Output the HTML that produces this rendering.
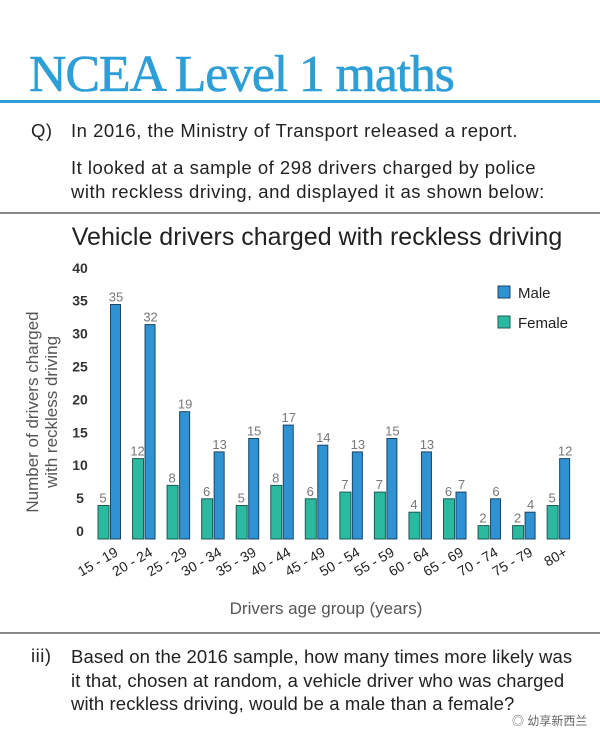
<!DOCTYPE html>
<html><head><meta charset="utf-8"><style>
body{margin:0;background:#fff;}
#page{position:relative;width:600px;height:741px;overflow:hidden;background:#fff;font-family:"Liberation Sans",sans-serif;color:#222;}
.t{position:absolute;white-space:nowrap;}
.q{font-size:18.5px;letter-spacing:0.5px;}
</style></head><body>
<div id="page">
<div class="t" style="left:29px;top:45px;font-family:'Liberation Serif',serif;font-size:52px;color:#2e9fd6;letter-spacing:-1.2px;-webkit-text-stroke:0.6px #2e9fd6;">NCEA Level 1 maths</div>
<div style="position:absolute;left:0;top:100px;width:600px;height:3px;background:#2e9fd6;"></div>
<div class="t q" style="left:31px;top:120px;">Q)</div>
<div class="t q" style="left:71px;top:120px;">In 2016, the Ministry of Transport released a report.</div>
<div class="t q" style="left:71px;top:156px;line-height:24px;">It looked at a sample of 298 drivers charged by police<br>with reckless driving, and displayed it as shown below:</div>
<div style="position:absolute;left:0;top:212px;width:600px;height:2px;background:#888;"></div>
<svg id="chart" width="600" height="420" style="position:absolute;left:0;top:215px;" viewBox="0 215 600 420"></svg>
<div style="position:absolute;left:0;top:632px;width:600px;height:2px;background:#888;"></div>
<div class="t q" style="left:31px;top:645px;">iii)</div>
<div class="t q" style="left:71px;top:645px;line-height:23.5px;letter-spacing:0.1px;">Based on the 2016 sample, how many times more likely was<br>it that, chosen at random, a vehicle driver who was charged<br>with reckless driving, would be a male than a female?</div>
<div class="t" style="left:512px;top:712px;font-size:12px;color:#666;font-family:'Liberation Sans','Noto Sans CJK SC',sans-serif;background:rgba(255,255,255,0.7);">◎ 幼享新西兰</div>
</div>
<script>
const categories=["15 - 19","20 - 24","25 - 29","30 - 34","35 - 39","40 - 44","45 - 49","50 - 54","55 - 59","60 - 64","65 - 69","70 - 74","75 - 79","80+"];
const female=[5,12,8,6,5,8,6,7,7,4,6,2,2,5];
const male=[35,32,19,13,15,17,14,13,15,13,7,6,4,12];
const yTicks=[0,5,10,15,20,25,30,35,40];
const NS="http://www.w3.org/2000/svg";
const svg=document.getElementById('chart');
function y(v){return 539-v*6.7;}
function xg(i){return 98+i*34.55;}
function mk(tag,attrs,txt){const e=document.createElementNS(NS,tag);for(const k in attrs)e.setAttribute(k,attrs[k]);if(txt!==undefined)e.textContent=txt;svg.appendChild(e);return e;}
let e;
e=mk('text',{x:317,y:245,'text-anchor':'middle','font-size':25,fill:'#222','font-family':'Liberation Sans,sans-serif'},'Vehicle drivers charged with reckless driving');


yTicks.forEach(v=>{
 const t=mk('text',{x:80,y:539-v*6.58-3,'text-anchor':'middle','font-size':14,'font-weight':'bold',fill:'#333','font-family':'Liberation Sans,sans-serif'},String(v));
 
 
});
e=mk('text',{transform:'translate(38,412) rotate(-90)','text-anchor':'middle','font-size':17,fill:'#555','font-family':'Liberation Sans,sans-serif'},'Number of drivers charged');


e=mk('text',{transform:'translate(57,412) rotate(-90)','text-anchor':'middle','font-size':17,fill:'#555','font-family':'Liberation Sans,sans-serif'},'with reckless driving');


categories.forEach((c,i)=>{
 const x0=xg(i);
 const f=mk('rect',{x:x0,y:y(female[i]),width:11,height:female[i]*6.7,fill:'#2bb9a0',stroke:'#1d5a55','stroke-width':1});
 
 
 const m=mk('rect',{x:x0+12.5,y:y(male[i]),width:10,height:male[i]*6.7,fill:'#2f93d3',stroke:'#1b4565','stroke-width':1});
 
 
 const fl=mk('text',{x:x0+5,y:y(female[i])-3,'text-anchor':'middle','font-size':13,fill:'#777','font-family':'Liberation Sans,sans-serif'},String(female[i]));
 
 
 const ml=mk('text',{x:x0+18,y:y(male[i])-3,'text-anchor':'middle','font-size':13,fill:'#777','font-family':'Liberation Sans,sans-serif'},String(male[i]));
 
 
 const cl=mk('text',{transform:'translate('+(x0+21)+',555) rotate(-30)','text-anchor':'end','font-size':14,fill:'#222','font-family':'Liberation Sans,sans-serif'},c);
 
 
});
e=mk('text',{x:326,y:614,'text-anchor':'middle','font-size':17,fill:'#555','font-family':'Liberation Sans,sans-serif'},'Drivers age group (years)');


e=mk('rect',{x:498,y:286,width:12,height:12,fill:'#2f93d3',stroke:'#1b4565'});


e=mk('text',{x:518,y:298,'font-size':15,fill:'#222','font-family':'Liberation Sans,sans-serif'},'Male');


e=mk('rect',{x:498,y:316,width:12,height:12,fill:'#2bb9a0',stroke:'#1d5a55'});


e=mk('text',{x:518,y:328,'font-size':15,fill:'#222','font-family':'Liberation Sans,sans-serif'},'Female');


</script>
</body></html>
